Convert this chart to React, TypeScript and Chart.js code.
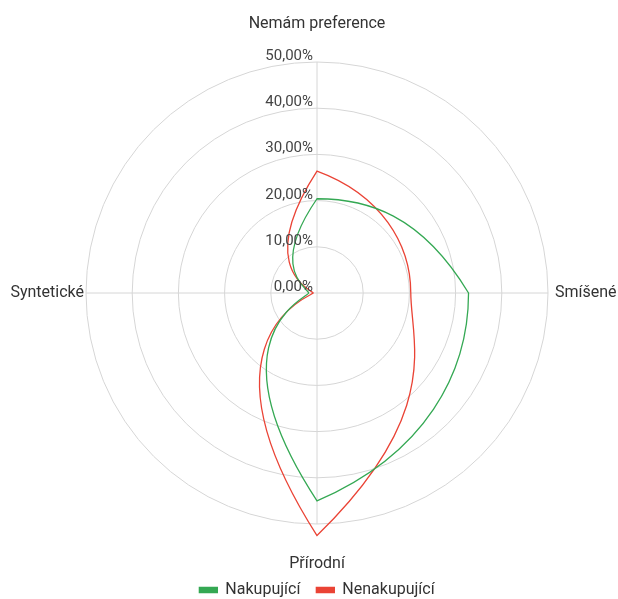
import React, { useEffect, useRef } from 'react';
import { Chart, registerables } from 'chart.js';

Chart.register(...registerables);

const categories = ['Nemám preference', 'Smíšené', 'Přírodní', 'Syntetické'];
const seriesNames = ['Nakupující', 'Nenakupující'];
const nakupujici = [20.4, 32.8, 45.0, 1.8];
const nenakupujici = [26.4, 20.3, 52.5, 0.8];
const tickMin = 0;
const tickMax = 50;
const tickStep = 10;
const formatTick = (v: number) => v.toFixed(2).replace('.', ',') + '%';

const GREEN = '#34a853';
const RED = '#ea4335';
const FONT = 'Roboto';
const CURVE_POWER = 2.5;

// per-category label placement: extra distance beyond outer ring and alignment
const pointLabelPlacement = [
  { pad: 38, align: 'center' },
  { pad: 7, align: 'left' },
  { pad: 40, align: 'center' },
  { pad: 2, align: 'right' },
];

// Shapes each radar segment as a curve that sweeps around the centre (polar-style),
// by adjusting the Bezier control points of Chart.js's own line element.
const polarCurvePlugin = {
  id: 'polarCurve',
  beforeDatasetDraw(chart: any, args: any) {
    const line = args.meta.dataset;
    if (!line) return;
    const s = chart.scales.r;
    line.updateControlPoints(chart.chartArea, 'x');
    const pts = line.points;
    const n = pts.length;
    const dTheta = (2 * Math.PI) / n;
    const info = pts.map((p: any, i: number) => {
      const a = s.getIndexAngle(i) - Math.PI / 2;
      return { r: Math.hypot(p.x - s.xCenter, p.y - s.yCenter), a };
    });
    for (let i = 0; i < n; i++) {
      const j = (i + 1) % n;
      const A = info[i];
      const B = info[j];
      const rA0 = -CURVE_POWER * Math.max(A.r - B.r, 0);
      const rB1 = CURVE_POWER * Math.max(B.r - A.r, 0);
      const d0x = rA0 * Math.cos(A.a) + A.r * dTheta * -Math.sin(A.a);
      const d0y = rA0 * Math.sin(A.a) + A.r * dTheta * Math.cos(A.a);
      const d1x = rB1 * Math.cos(B.a) + B.r * dTheta * -Math.sin(B.a);
      const d1y = rB1 * Math.sin(B.a) + B.r * dTheta * Math.cos(B.a);
      pts[i].cp2x = pts[i].x + d0x / 3;
      pts[i].cp2y = pts[i].y + d0y / 3;
      pts[j].cp1x = pts[j].x - d1x / 3;
      pts[j].cp1y = pts[j].y - d1y / 3;
    }
  },
};

const radarTextPlugin = {
  id: 'radarText',
  afterDraw(chart: any) {
    const s = chart.scales.r;
    const ctx = chart.ctx;
    ctx.save();
    ctx.font = `15px ${FONT}`;
    ctx.fillStyle = '#444';
    ctx.textAlign = 'right';
    ctx.textBaseline = 'alphabetic';
    s.ticks.forEach((t: any) => {
      const y = s.yCenter - s.getDistanceFromCenterForValue(t.value);
      ctx.fillText(t.label, s.xCenter - 4, y - 2);
    });
    ctx.font = `16px ${FONT}`;
    ctx.fillStyle = '#333';
    ctx.textBaseline = 'middle';
    (chart.data.labels as string[]).forEach((lab, i) => {
      const p = pointLabelPlacement[i];
      const pos = s.getPointPosition(i, s.drawingArea + p.pad);
      ctx.textAlign = p.align;
      ctx.fillText(lab, pos.x, pos.y);
    });
    ctx.restore();
  },
};

export default function App() {
  const ref = useRef<HTMLCanvasElement>(null);
  useEffect(() => {
    if (!ref.current) return;
    const chart = new Chart(ref.current, {
      type: 'radar',
      data: {
        labels: categories,
        datasets: [
          {
            label: seriesNames[0],
            data: nakupujici,
            borderColor: GREEN,
            backgroundColor: GREEN,
            borderWidth: 1.3,
            fill: false,
            pointRadius: 0,
            tension: 0.3,
          },
          {
            label: seriesNames[1],
            data: nenakupujici,
            borderColor: RED,
            backgroundColor: RED,
            borderWidth: 1.3,
            fill: false,
            pointRadius: 0,
            tension: 0.3,
          },
        ],
      },
      options: {
        responsive: false,
        animation: false,
        layout: { padding: { top: 20, left: 86, right: 70, bottom: -9 } },
        plugins: {
          legend: {
            position: 'bottom',
            labels: {
              font: { family: FONT, size: 16 },
              color: '#333',
              boxWidth: 18,
              boxHeight: 5,
              padding: 16,
            },
          },
          tooltip: { enabled: false },
        },
        scales: {
          r: {
            min: tickMin,
            max: tickMax,
            ticks: {
              display: false,
              stepSize: tickStep,
              callback: (v: any) => formatTick(Number(v)),
            },
            pointLabels: { display: false },
            grid: { circular: true, color: '#d6d6d6', lineWidth: 1 },
            angleLines: { color: '#d6d6d6', lineWidth: 1 },
          },
        },
      },
      plugins: [polarCurvePlugin, radarTextPlugin],
    });
    return () => chart.destroy();
  }, []);
  return (
    <div style={{ position: 'fixed', left: 0, top: 0, width: 618, height: 599, background: '#fff' }}>
      <canvas ref={ref} width={618} height={599} style={{ display: 'block' }} />
    </div>
  );
}
